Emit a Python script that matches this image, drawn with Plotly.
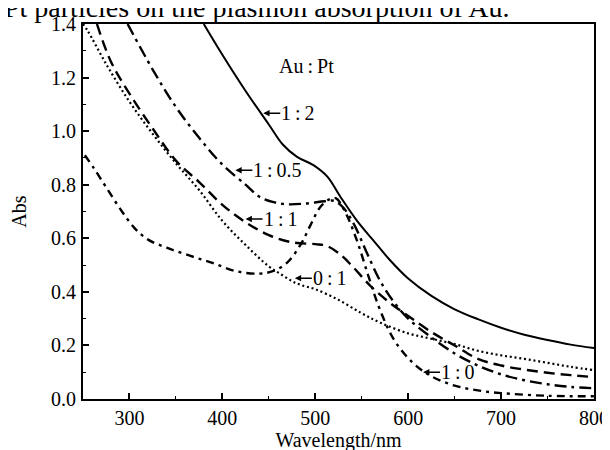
import plotly.graph_objects as go

# ---- data (wavelength nm, absorbance) ----
w_12 = [380, 400, 425, 450, 465, 480, 498, 513, 527, 545, 562, 580, 600, 625, 650, 675, 700, 725, 750, 775, 800]
a_12 = [1.40, 1.285, 1.15, 1.025, 0.95, 0.905, 0.873, 0.83, 0.755, 0.665, 0.594, 0.52, 0.45, 0.385, 0.335, 0.298, 0.266, 0.24, 0.22, 0.203, 0.19]

w_105 = [298, 325, 350, 375, 400, 425, 440, 455, 470, 490, 510, 520, 530, 542, 555, 570, 585, 600, 625, 650, 675, 700, 725, 750, 775, 800]
a_105 = [1.40, 1.23, 1.09, 0.975, 0.875, 0.80, 0.755, 0.735, 0.727, 0.73, 0.738, 0.74, 0.715, 0.65, 0.55, 0.44, 0.36, 0.30, 0.23, 0.17, 0.125, 0.092, 0.07, 0.055, 0.045, 0.04]

w_11 = [265, 280, 300, 325, 350, 375, 400, 425, 450, 475, 500, 512, 525, 540, 560, 580, 600, 625, 650, 675, 700, 725, 750, 775, 800]
a_11 = [1.40, 1.26, 1.14, 1.01, 0.89, 0.81, 0.725, 0.66, 0.612, 0.585, 0.578, 0.572, 0.545, 0.495, 0.42, 0.36, 0.31, 0.25, 0.20, 0.15, 0.125, 0.11, 0.098, 0.089, 0.082]

w_01 = [250, 255, 275, 300, 325, 350, 375, 400, 425, 450, 462, 475, 485, 500, 525, 550, 570, 600, 625, 650, 675, 700, 725, 750, 775, 800]
a_01 = [1.40, 1.375, 1.25, 1.11, 0.99, 0.88, 0.78, 0.665, 0.575, 0.495, 0.468, 0.44, 0.425, 0.41, 0.37, 0.32, 0.285, 0.245, 0.225, 0.205, 0.18, 0.163, 0.15, 0.135, 0.12, 0.108]

w_10 = [252, 262, 275, 290, 305, 320, 340, 365, 390, 415, 440, 455, 470, 484, 495, 505, 515, 522, 532, 545, 558, 570, 585, 605, 625, 650, 675, 700, 750, 800]
a_10 = [0.91, 0.86, 0.79, 0.71, 0.64, 0.595, 0.565, 0.535, 0.507, 0.477, 0.468, 0.478, 0.51, 0.575, 0.65, 0.715, 0.745, 0.75, 0.70, 0.59, 0.45, 0.33, 0.22, 0.135, 0.085, 0.05, 0.032, 0.022, 0.012, 0.01]

x_ticks = [300, 400, 500, 600, 700, 800]
y_ticks = [0.0, 0.2, 0.4, 0.6, 0.8, 1.0, 1.2, 1.4]
y_ticktext = ["0.0", "0.2", "0.4", "0.6", "0.8", "1.0", "1.2", "1.4"]

label_text = ["1\u2009:\u20092", "1\u2009:\u20090.5", "1\u2009:\u20091", "0\u2009:\u20091", "1\u2009:\u20090"]
label_x = [444, 414, 425, 478, 616]
label_y = [1.067, 0.854, 0.672, 0.451, 0.10]

SERIF = "Liberation Serif, Times New Roman, serif"

fig = go.Figure()
common = dict(mode="lines", line_shape="spline", showlegend=False, hoverinfo="skip")
fig.add_trace(go.Scatter(x=w_12, y=a_12, line=dict(color="black", width=2), **common))
fig.add_trace(go.Scatter(x=w_105, y=a_105, line=dict(color="black", width=2.4, dash="12px,5px,3px,5px"), **common))
fig.add_trace(go.Scatter(x=w_11, y=a_11, line=dict(color="black", width=2.4, dash="11px,6px"), **common))
fig.add_trace(go.Scatter(x=w_01, y=a_01, line=dict(color="black", width=2.2, dash="2px,2.8px"), **common))
fig.add_trace(go.Scatter(x=w_10, y=a_10, line=dict(color="black", width=2.4, dash="8px,5px,3px,5px"), **common))

for t, x, y in zip(label_text, label_x, label_y):
    fig.add_annotation(x=x, y=y, text=t, showarrow=True, ax=17, ay=0, xanchor="left", yanchor="middle",
                       arrowhead=2, arrowsize=0.9, arrowwidth=1.4, arrowcolor="black", standoff=0,
                       borderpad=0, font=dict(family=SERIF, size=20, color="black"))

fig.add_annotation(x=459, y=1.245, text="Au\u2009:\u2009Pt", showarrow=False, xanchor="left", yanchor="middle",
                   font=dict(family=SERIF, size=20, color="black"))

# clipped caption line at very top of the page
fig.add_annotation(x=-0.158, y=1.0, xref="paper", yref="paper", xanchor="left", yanchor="bottom",
                   text="Pt particles on the plasmon absorption of Au.", showarrow=False, yshift=-1,
                   font=dict(family=SERIF, size=28, color="black"))

fig.update_layout(
    template="none",
    width=610, height=450,
    margin=dict(l=75, r=24, t=16, b=59, autoexpand=False),
    paper_bgcolor="white", plot_bgcolor="white",
    font=dict(family=SERIF, size=20, color="black"),
)
fig.update_xaxes(range=[250, 800], tickvals=x_ticks, ticks="inside", ticklen=6, tickwidth=1.5, tickcolor="black",
                 showline=True, linecolor="black", linewidth=2, mirror=True, showgrid=False, zeroline=False,
                 automargin=False, ticklabelstandoff=0,
                 minor=dict(dtick=50, tick0=250, ticks="inside", ticklen=3, tickwidth=1.2, tickcolor="black", showgrid=False),
                 title=dict(text="Wavelength/nm", standoff=4, font=dict(size=20)),
                 tickfont=dict(size=20))
fig.update_yaxes(range=[0, 1.4], tickvals=y_ticks, ticktext=y_ticktext, ticks="inside", ticklen=6, tickwidth=1.5,
                 tickcolor="black",
                 showline=True, linecolor="black", linewidth=2, mirror=True, showgrid=False, zeroline=False,
                 automargin=False, ticklabelstandoff=1,
                 minor=dict(dtick=0.1, tick0=0, ticks="inside", ticklen=3, tickwidth=1.2, tickcolor="black", showgrid=False),
                 title=dict(text="Abs", standoff=19, font=dict(size=20)),
                 tickfont=dict(size=20))

fig.write_html("out.html")
